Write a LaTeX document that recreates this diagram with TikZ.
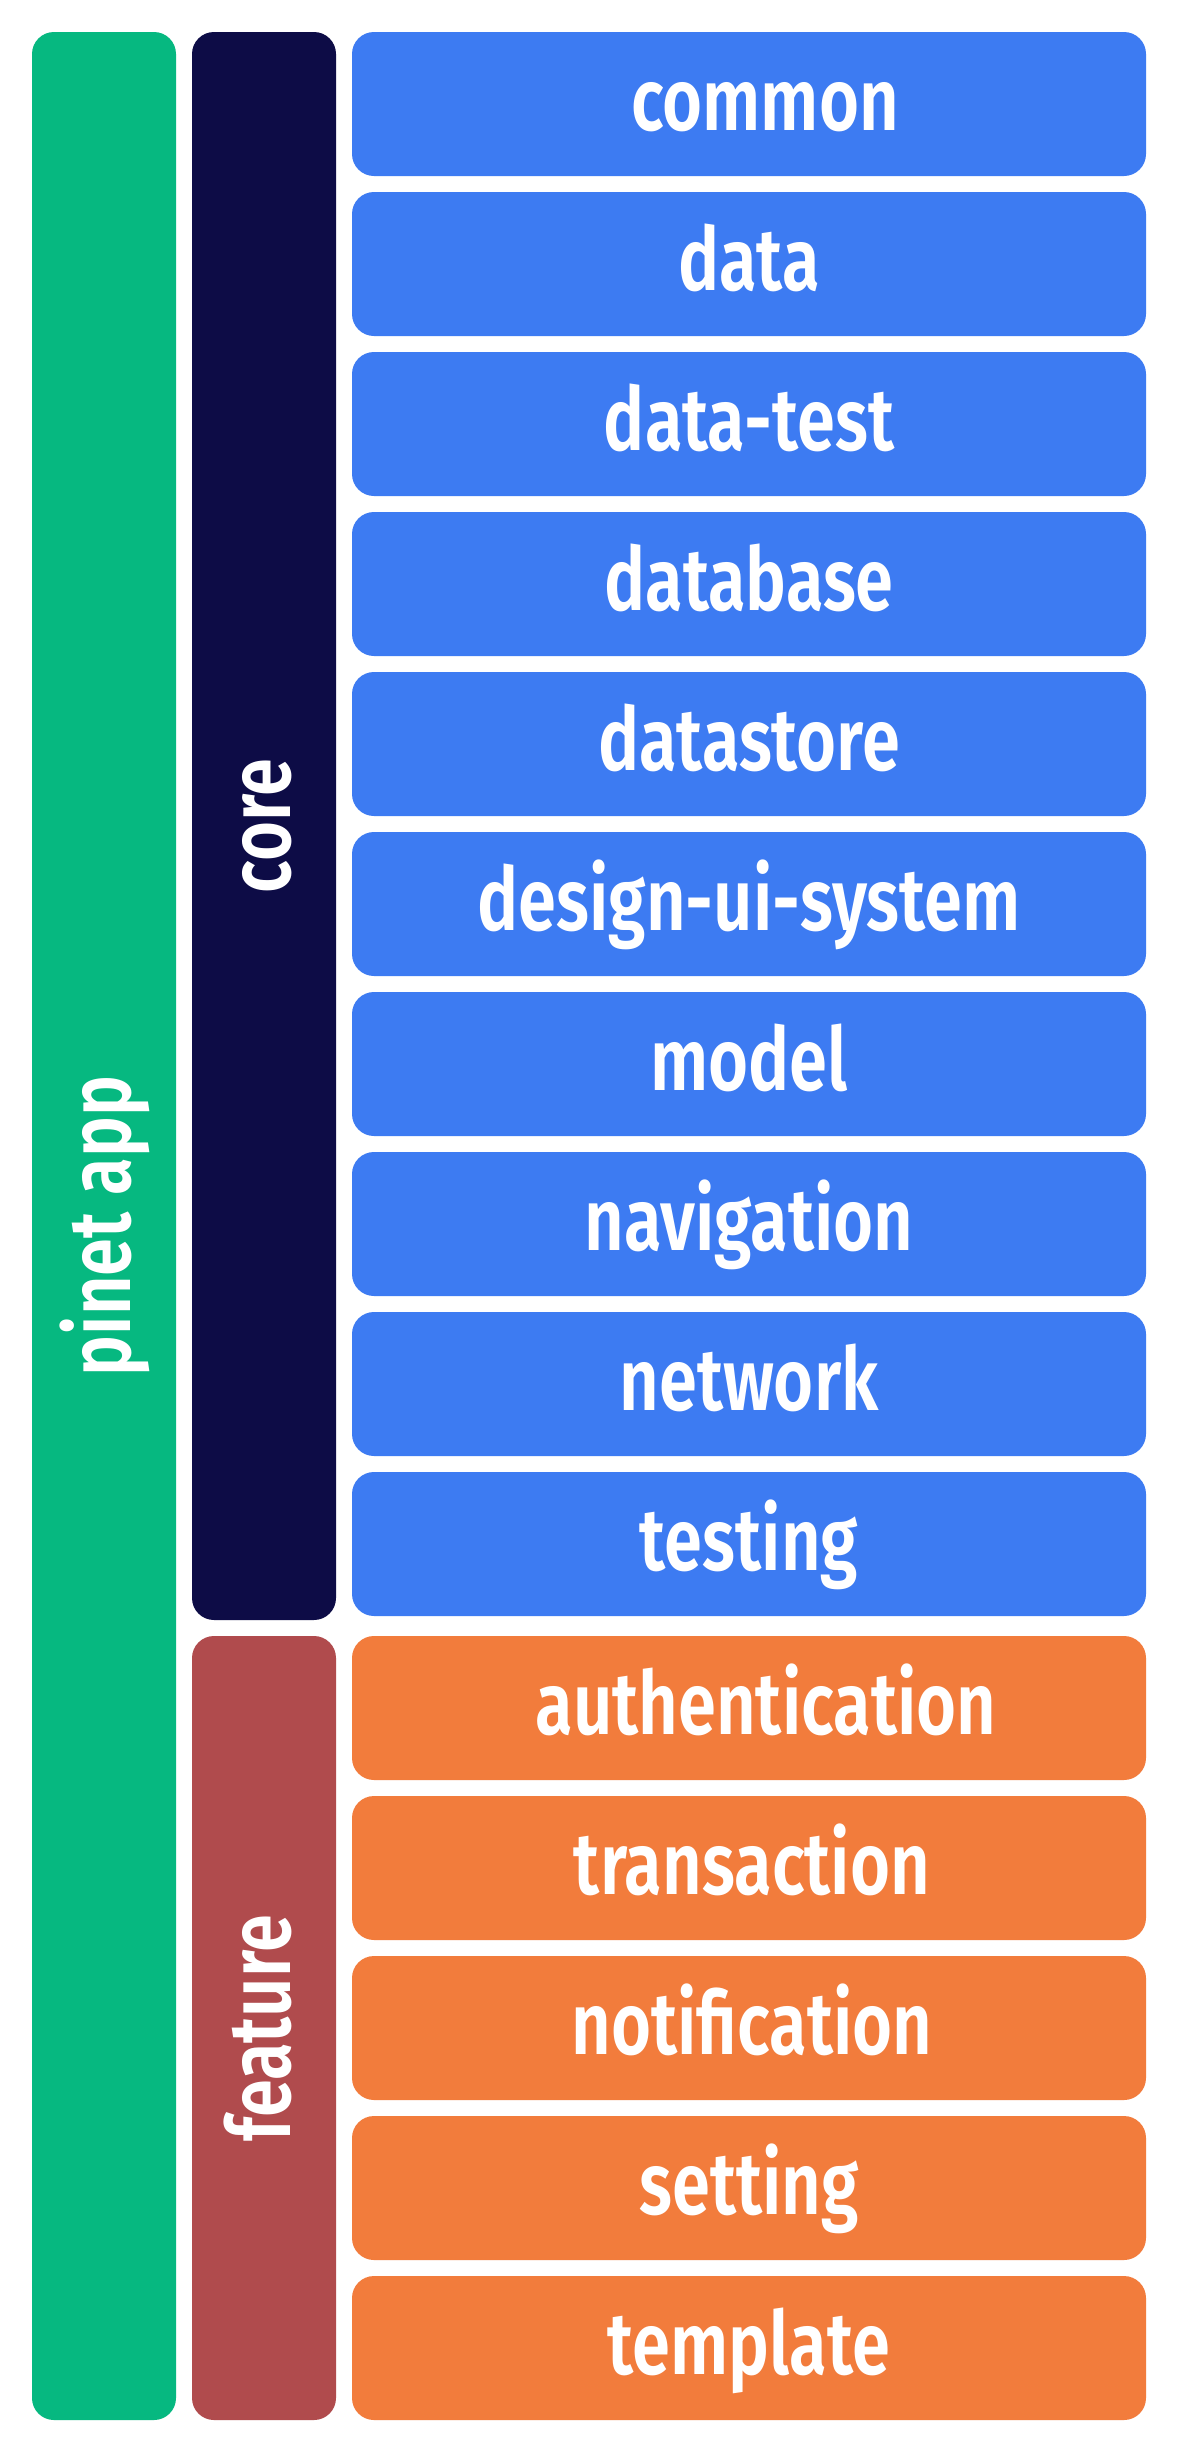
\documentclass[tikz,border=0pt]{standalone}
\usepackage{fontspec}
\setmainfont{Fira Sans}[FakeStretch=0.78, BoldFont={Fira Sans SemiBold}]
\definecolor{appgreen}{RGB}{6,184,128}
\definecolor{corenavy}{RGB}{13,12,70}
\definecolor{modblue}{RGB}{61,123,242}
\definecolor{featred}{RGB}{176,75,77}
\definecolor{modorange}{RGB}{242,124,60}
\tikzset{
  panel/.style={rectangle, rounded corners=22pt, inner sep=0pt, text=white,
    font=\bfseries\fontsize{88}{100}\selectfont, text height=70pt, text depth=18pt,
    align=center},
  modbox/.style={panel, minimum width=794pt, minimum height=144pt},
  corebox/.style={modbox, fill=modblue},
  featbox/.style={modbox, fill=modorange},
  column/.style={panel, rotate=90, minimum height=144pt},
}
\begin{document}
\begin{tikzpicture}[x=1pt,y=-1pt]
\useasboundingbox (0,0) rectangle (1178,2458);
\fill[white] (0,0) rectangle (1178,2458);
\node[column, fill=appgreen, minimum width=2388pt] (app) at (104,1226) {pinet app};
\node[column, fill=corenavy, minimum width=1588pt] (core) at (264,826) {core};
\node[column, fill=featred, minimum width=784pt] (feature) at (264,2028) {feature};
\foreach \t/\dx [count=\i from 0] in {common/16,data/0,data-test/0,database/0,datastore/0,design-ui-system/0,model/0,navigation/0,network/0,testing/0}
  \node[corebox] (c\i) at (749,104+160*\i) {\hspace*{\dx pt}\t\hspace*{-\dx pt}};
\foreach \t/\dx [count=\i from 0] in {authentication/17,transaction/3,notification/3,setting/0,template/0}
  \node[featbox] (f\i) at (749,1708+160*\i) {\hspace*{\dx pt}\t\hspace*{-\dx pt}};
\end{tikzpicture}
\end{document}
